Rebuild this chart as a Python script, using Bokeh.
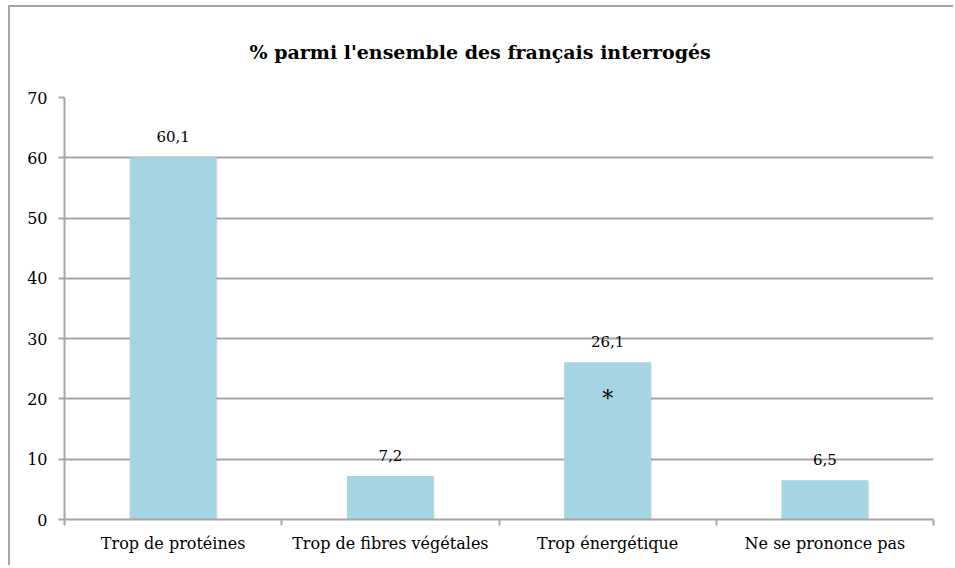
from bokeh.plotting import figure
from bokeh.models import Range1d, FixedTicker, LinearAxis, ColumnDataSource, LabelSet
from bokeh.embed import file_html
from bokeh.resources import INLINE
from bokeh.core.properties import value

categories = ["Trop de protéines", "Trop de fibres végétales", "Trop énergétique", "Ne se prononce pas"]
values = [60.1, 7.2, 26.1, 6.5]
value_labels = ["60,1", "7,2", "26,1", "6,5"]
y_ticks = [0, 10, 20, 30, 40, 50, 60, 70]
title_text = "% parmi l'ensemble des français interrogés"
note_index = [2]
note_y = [20]
note_text = ["*"]

FONT = "DejaVu Serif"
GRID = "#a6a6a6"
BAR = "#a5d5e2"

n = len(categories)
xc = [i + 0.5 for i in range(n)]
src = ColumnDataSource(dict(x=xc, top=values, lab=value_labels))

p = figure(width=945, height=560, output_backend="svg", toolbar_location=None,
           x_range=Range1d(0, n), y_range=Range1d(0, y_ticks[-1]),
           min_border_left=54, min_border_right=22, min_border_top=90, min_border_bottom=48,
           styles={"border-top": "2px solid #a6a6a6", "border-left": "2px solid #a6a6a6",
                   "margin-left": "8px", "margin-top": "5px"})
p.outline_line_color = None
p.background_fill_color = "white"
p.border_fill_color = "white"

p.title.text = title_text
p.title.align = "left"
p.title.offset = 185
p.title.vertical_align = "top"
p.title.text_font = FONT
p.title.text_font_size = "19px"
p.title.text_font_style = "bold"
p.title.text_color = "#000000"
p.title.standoff = 65

# y axis
p.yaxis.ticker = FixedTicker(ticks=y_ticks)
p.yaxis.axis_line_color = GRID
p.yaxis.axis_line_width = 2
p.yaxis.major_tick_line_color = GRID
p.yaxis.major_tick_line_width = 2
p.yaxis.major_tick_out = 6
p.yaxis.major_tick_in = 0
p.yaxis.minor_tick_line_color = None
p.yaxis.major_label_text_font = FONT
p.yaxis.major_label_text_font_size = "16px"
p.yaxis.major_label_text_color = "#000000"
p.yaxis.major_label_standoff = 11

# x axis: boundary ticks, no labels
bounds = list(range(n + 1))
p.xaxis.ticker = FixedTicker(ticks=bounds)
p.xaxis.major_label_overrides = {b: "" for b in bounds}
p.xaxis.axis_line_color = GRID
p.xaxis.axis_line_width = 2
p.xaxis.major_tick_line_color = GRID
p.xaxis.major_tick_line_width = 2
p.xaxis.major_tick_out = 6
p.xaxis.major_tick_in = 0
p.xaxis.minor_tick_line_color = None
p.xaxis.major_label_standoff = 0

# x axis: category labels
xl = LinearAxis(ticker=FixedTicker(ticks=xc),
                major_label_overrides={x: c for x, c in zip(xc, categories)},
                axis_line_color=None, major_tick_line_color=None, minor_tick_line_color=None,
                major_label_text_font=FONT, major_label_text_font_size="16px",
                major_label_text_color="#000000", major_label_standoff=2)
p.add_layout(xl, "below")

p.xgrid.grid_line_color = None
p.ygrid.ticker = FixedTicker(ticks=y_ticks)
p.ygrid.grid_line_color = GRID
p.ygrid.grid_line_width = 2

# faint shadow then bars
p.vbar(x=[v + 0.006 for v in xc], top=[v - 0.25 for v in values], width=0.4,
       fill_color="#000000", fill_alpha=0.07, line_color=None)
p.vbar(x="x", top="top", width=0.4, source=src, fill_color=BAR, line_color=None)

labels = LabelSet(x="x", y="top", text="lab", source=src, text_align="center",
                  text_baseline="bottom", y_offset=15, text_font=value(FONT),
                  text_font_size="15px", text_color="#000000")
p.add_layout(labels)

p.text(x=[xc[i] for i in note_index], y=note_y, text=note_text, text_align="center",
       text_baseline="middle", text_font=value(FONT), text_font_size="22px", text_color="#000000")

open("out.html", "w").write(file_html(p, INLINE))
